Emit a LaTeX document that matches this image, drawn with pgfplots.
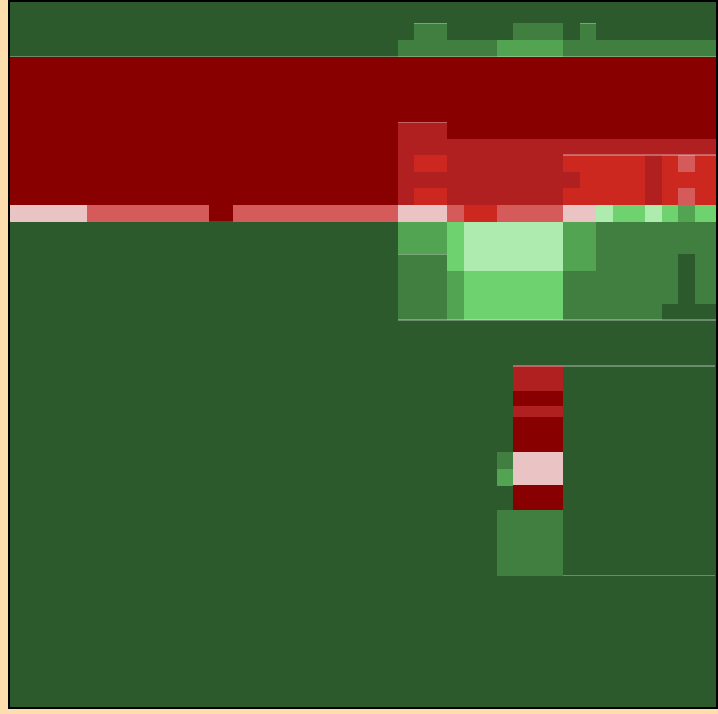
\documentclass[border=0pt]{standalone}
\usepackage{pgfplots}
\pgfplotsset{compat=1.18}
\definecolor{peach}{HTML}{FFDEAD}
\definecolor{dg}{HTML}{2D5A2D}
\definecolor{mg}{HTML}{417F41}
\definecolor{gg}{HTML}{52A352}
\definecolor{lg}{HTML}{6ED26E}
\definecolor{pg}{HTML}{AEEBAE}
\definecolor{pk}{HTML}{EAC4C4}
\definecolor{ir}{HTML}{D55A5A}
\definecolor{rd}{HTML}{CC2820}
\definecolor{fb}{HTML}{B02020}
\definecolor{dr}{HTML}{880000}
\newcommand{\R}[5]{\addplot[fill=#1,draw=none,forget plot] coordinates {(#2,#3) (#4,#3) (#4,#5) (#2,#5)} --cycle;}
\newcommand{\Lh}[3]{\addplot[draw=white,draw opacity=0.3,line width=0.5pt,forget plot] coordinates {(#1,#3) (#2,#3)};}
\begin{document}
\begin{tikzpicture}
\begin{axis}[scale only axis, width=10cm, height=9.944cm,
  xmin=0, xmax=718, ymin=0, ymax=714, y dir=reverse,
  axis lines=none, clip=true]
% background and frame
\R{peach}{0}{0}{718}{714}
\R{black}{8}{0}{718}{709}
\R{dg}{10}{2}{716}{707}
% top band
\R{mg}{414.3}{23.3}{447.3}{40}
\R{mg}{513.3}{23.3}{563}{40}
\R{mg}{579.7}{23.3}{596}{40}
\R{mg}{398}{40}{497}{56.5}
\R{gg}{497}{40}{563}{56.5}
\R{mg}{563}{40}{716}{56.5}
% red band
\R{dr}{10}{56.5}{716}{205}
\R{fb}{398}{122.3}{447.3}{205}
\R{fb}{447.3}{139}{716}{205}
\R{rd}{414.3}{155}{447.3}{172}
\R{rd}{414.3}{188}{447.3}{205}
\R{rd}{563}{155}{645.3}{205}
\R{fb}{563}{172}{579.7}{188}
\R{rd}{662}{155}{716}{205}
\R{ir}{678.3}{155}{695}{172}
\R{ir}{678.3}{188}{695}{205}
% mixed row
\R{pk}{10}{205}{87}{221.7}
\R{ir}{87}{205}{208.7}{221.7}
\R{dr}{208.7}{205}{233}{221.2}
\R{ir}{233}{205}{398}{221.7}
\R{pk}{398}{205}{447.3}{221.7}
\R{ir}{447.3}{205}{464}{221.7}
\R{rd}{464}{205}{497}{221.7}
\R{ir}{497}{205}{563}{221.7}
\R{pk}{563}{205}{596}{221.7}
\R{pg}{596}{205}{612.5}{221.7}
\R{lg}{612.5}{205}{645.3}{221.7}
\R{pg}{645.3}{205}{662}{221.7}
\R{lg}{662}{205}{678.3}{221.7}
\R{gg}{678.3}{205}{695}{221.7}
\R{lg}{695}{205}{716}{221.7}
% green block
\R{gg}{398}{221.7}{447.3}{254.3}
\R{mg}{398}{254.3}{447.3}{320}
\R{lg}{447.3}{221.7}{464}{270.7}
\R{gg}{447.3}{270.7}{464}{320}
\R{pg}{464}{221.7}{563}{270.7}
\R{lg}{464}{270.7}{563}{320}
\R{gg}{563}{221.7}{596}{270.7}
\R{mg}{563}{270.7}{596}{320}
\R{mg}{596}{221.7}{716}{320}
\R{dg}{678.3}{254.3}{695}{304}
\R{dg}{662}{304}{716}{320}
% lower column
\R{fb}{513.3}{366}{563}{391}
\R{dr}{513.3}{391}{563}{405.7}
\R{fb}{513.3}{405.7}{563}{416.7}
\R{dr}{513.3}{416.7}{563}{452.3}
\R{pk}{513.3}{452.3}{563}{485.3}
\R{dr}{513.3}{485.3}{563}{509.5}
\R{mg}{497}{452.3}{513.3}{469}
\R{gg}{497}{469}{513.3}{485.7}
\R{mg}{497}{509.5}{563}{575.7}
% thin outlines
\Lh{10}{716}{56.5}
\Lh{513.3}{715}{366}
\Lh{563}{715}{575.5}
\Lh{398}{447.3}{122.3}
\Lh{398}{447.3}{254.3}
\Lh{398}{716}{320}
\Lh{563}{645.3}{155}
\Lh{645.3}{716}{155}
\Lh{414.3}{447.3}{23.3}
\Lh{579.7}{596}{23.3}
\end{axis}
\end{tikzpicture}
\end{document}
